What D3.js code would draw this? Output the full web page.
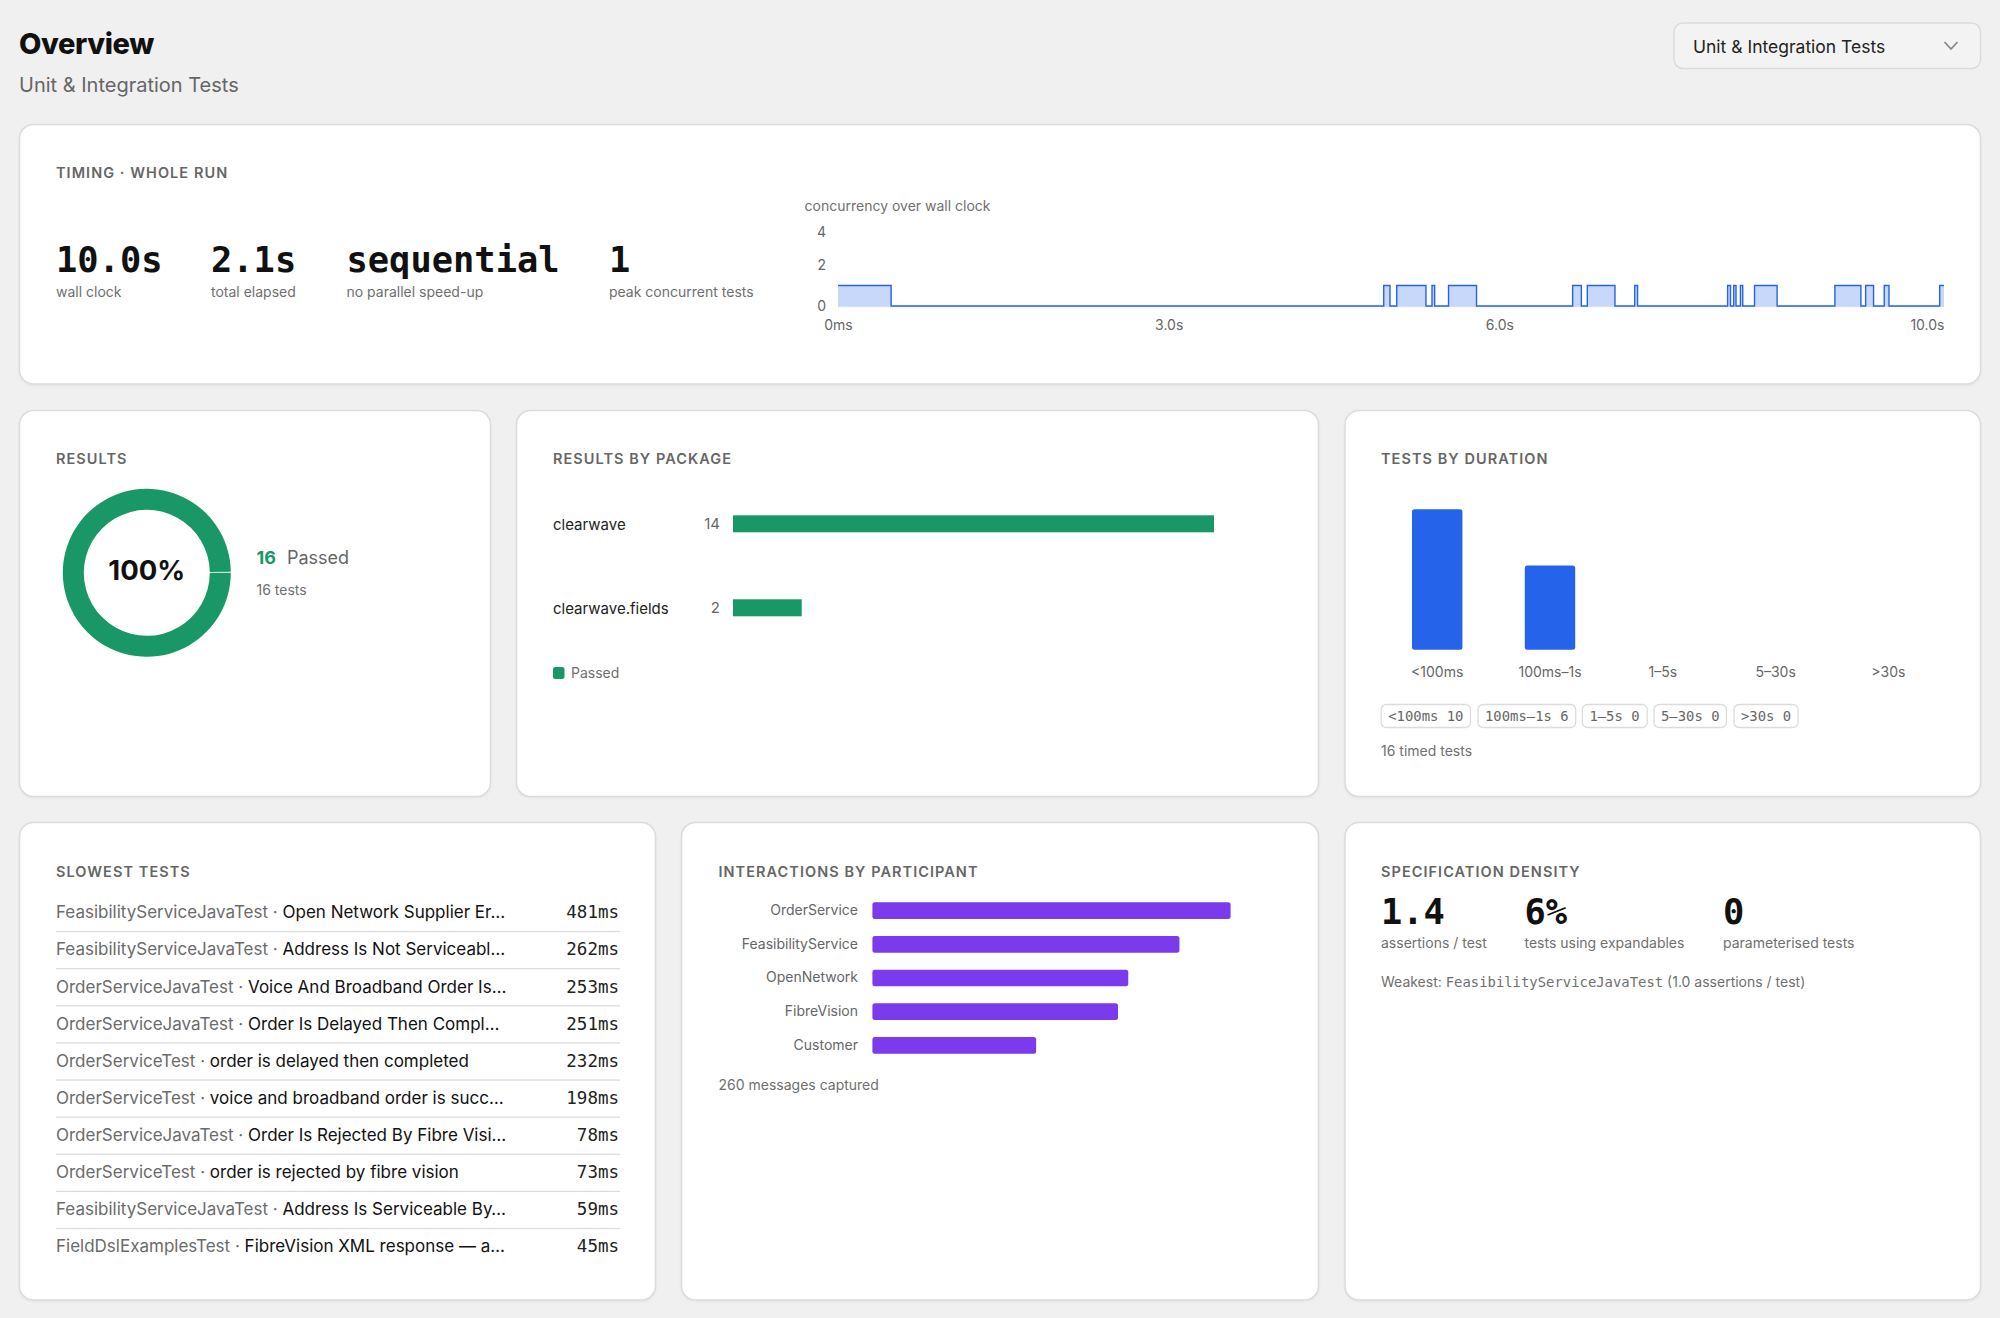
<!DOCTYPE html>
<html>
<head>
<meta charset="utf-8">
<title>Overview</title>
<script src="https://cdn.jsdelivr.net/npm/d3@7"></script>
<style>
  html, body { margin: 0; padding: 0; background: #f0f0f0; }
  svg { display: block; }
  text { font-family: Inter, "Noto Sans", sans-serif; }
  .mono { font-family: "DejaVu Sans Mono", monospace; }
  .card-title { font-size: 14.5px; font-weight: 600; letter-spacing: 1.05px; fill: #666; }
  .small { font-size: 14px; fill: #6f6f6f; }
  .big { font-size: 35.4px; font-weight: 700; fill: #111; font-family: "DejaVu Sans Mono", monospace; }
  .tick text { font-family: Inter, "Noto Sans", sans-serif; font-size: 14px; fill: #666; }
</style>
</head>
<body>
<div id="chart"></div>
<script>
// timing stats
const timingValues = ['10.0s', '2.1s', 'sequential', '1'];
const timingLabels = ['wall clock', 'total elapsed', 'no parallel speed-up', 'peak concurrent tests'];

// concurrency steps: time in seconds, level from that time on
const concurrencyTimes = [0, 0.482, 4.951, 5.008, 5.069, 5.334, 5.389, 5.413, 5.539, 5.793, 6.665, 6.744,
  6.798, 7.049, 7.228, 7.254, 8.071, 8.097, 8.126, 8.147, 8.187, 8.208, 8.315, 8.520, 9.044, 9.280,
  9.323, 9.395, 9.492, 9.535, 9.995, 10.034];
const concurrencyLevels = [1, 0, 1, 0, 1, 0, 1, 0, 1, 0, 1, 0, 1, 0, 1, 0, 1, 0, 1, 0, 1, 0, 1, 0, 1, 0,
  1, 0, 1, 0, 1, 1];
const concurrencyYTicks = [0, 2, 4];
const concurrencyXTicks = [0, 3, 6, 10.034];
const concurrencyXLabels = ['0ms', '3.0s', '6.0s', '10.0s'];

// results
const resultNames = ['Passed'];
const resultCounts = [16];

// results by package
const packages = ['clearwave', 'clearwave.fields'];
const packagePassed = [14, 2];

// tests by duration
const durationBuckets = ['<100ms', '100ms\u20131s', '1\u20135s', '5\u201330s', '>30s'];
const durationCounts = [10, 6, 0, 0, 0];

// slowest tests
const slowClasses = ['FeasibilityServiceJavaTest', 'FeasibilityServiceJavaTest', 'OrderServiceJavaTest',
  'OrderServiceJavaTest', 'OrderServiceTest', 'OrderServiceTest', 'OrderServiceJavaTest', 'OrderServiceTest',
  'FeasibilityServiceJavaTest', 'FieldDslExamplesTest'];
const slowNames = ['Open Network Supplier Er\u2026', 'Address Is Not Serviceabl\u2026', 'Voice And Broadband Order Is\u2026',
  'Order Is Delayed Then Compl\u2026', 'order is delayed then completed', 'voice and broadband order is succ\u2026',
  'Order Is Rejected By Fibre Visi\u2026', 'order is rejected by fibre vision', 'Address Is Serviceable By\u2026',
  'FibreVision XML response \u2014 a\u2026'];
const slowMillis = [481, 262, 253, 251, 232, 198, 78, 73, 59, 45];

// interactions by participant
const participants = ['OrderService', 'FeasibilityService', 'OpenNetwork', 'FibreVision', 'Customer'];
const participantMessages = [70, 60, 50, 48, 32];

// specification density
const densityValues = ['1.4', '6%', '0'];
const densityLabels = ['assertions / test', 'tests using expandables', 'parameterised tests'];

const GREEN = '#1a9766';
const BLUE = '#2563eb';
const PURPLE = '#7c3aed';

const svg = d3.select('#chart').append('svg').attr('width', 2000).attr('height', 1318);

// Card backgrounds
const card = (x0, y0, x1, y1) => svg.append('rect')
  .attr('x', x0).attr('y', y0).attr('width', x1 - x0).attr('height', y1 - y0)
  .attr('rx', 14).attr('fill', '#fff').attr('stroke', '#dcdcdc').attr('stroke-width', 1.5)
  .style('filter', 'drop-shadow(0 1px 1px rgba(0,0,0,0.05))');

card(19.5, 124.5, 1980.5, 384);
card(19.5, 410.5, 490.5, 796.5);
card(516.5, 410.5, 1318.5, 796.5);
card(1345, 410.5, 1980.5, 796.5);
card(19.5, 822.5, 655.5, 1300);
card(681.5, 822.5, 1318.5, 1300);
card(1345, 822.5, 1980.5, 1300);

const label = (x, y, str, cls) => svg.append('text').attr('x', x).attr('y', y).attr('class', cls).text(str);

// Header
svg.append('text').attr('x', 19).attr('y', 53.5).text('Overview')
  .style('font-size', '29px').style('font-weight', 800).style('letter-spacing', '-0.4px').attr('fill', '#111');
svg.append('text').attr('x', 19).attr('y', 91.5).text('Unit & Integration Tests')
  .style('font-size', '20px').attr('fill', '#666');

svg.append('rect').attr('x', 1674).attr('y', 23).attr('width', 306.5).attr('height', 45.5)
  .attr('rx', 9).attr('fill', '#f3f3f3').attr('stroke', '#dcdcdc').attr('stroke-width', 1.5);
svg.append('text').attr('x', 1693).attr('y', 52.5).text('Unit & Integration Tests')
  .style('font-size', '17.5px').attr('fill', '#222');
svg.append('path').attr('d', d3.line()([[1944.5, 42], [1951, 49], [1957.5, 42]]))
  .attr('fill', 'none').attr('stroke', '#888').attr('stroke-width', 1.8);

// Timing card
label(56, 178, 'TIMING \u00b7 WHOLE RUN', 'card-title');
const timingX = [56, 211, 346.5, 609];
timingValues.forEach((v, i) => {
  label(timingX[i], 271.5, v, 'big');
  label(timingX[i], 296.5, timingLabels[i], 'small');
});

label(804.5, 211, 'concurrency over wall clock', 'small');

const xTime = d3.scaleLinear().domain([0, 10.034]).range([838, 1944]);
// the "4" label sits closer than the linear spacing, so the top segment is compressed
const yLevel = d3.scaleLinear().domain([0, 2, 4]).range([306, 265, 232.5]);

const steps = concurrencyTimes.map((t, i) => ({ t, level: concurrencyLevels[i] }));

svg.append('path').datum(steps)
  .attr('d', d3.area().curve(d3.curveStepAfter).x(d => xTime(d.t)).y0(yLevel(0)).y1(d => yLevel(d.level)))
  .attr('fill', BLUE).attr('fill-opacity', 0.25);
svg.append('rect').attr('x', xTime(0)).attr('y', yLevel(0)).attr('width', xTime(10.034) - xTime(0)).attr('height', 1.2)
  .attr('fill', BLUE).attr('fill-opacity', 0.2);

svg.append('clipPath').attr('id', 'conc-clip').append('rect')
  .attr('x', xTime(0)).attr('y', 200).attr('width', xTime(10.034) - xTime(0)).attr('height', 120);
svg.append('path').datum(steps)
  .attr('d', d3.line().curve(d3.curveStepAfter).x(d => xTime(d.t)).y(d => yLevel(d.level)))
  .attr('fill', 'none').attr('stroke', BLUE).attr('stroke-width', 1.4)
  .attr('clip-path', 'url(#conc-clip)');

svg.append('g').attr('transform', `translate(${xTime(0)},0)`)
  .call(d3.axisLeft(yLevel).tickValues(concurrencyYTicks).tickFormat(d3.format('d')).tickSize(0).tickPadding(12))
  .call(g => g.select('.domain').remove());
svg.append('g').attr('transform', `translate(0,${yLevel(0)})`)
  .call(d3.axisBottom(xTime).tickValues(concurrencyXTicks).tickFormat((d, i) => concurrencyXLabels[i]).tickSize(0).tickPadding(14))
  .call(g => g.select('.domain').remove())
  .call(g => g.selectAll('.tick:last-of-type text').attr('text-anchor', 'end'));

// Results donut
label(56, 464, 'RESULTS', 'card-title');
const pie = d3.pie().sort(null).startAngle(Math.PI / 2).endAngle(Math.PI / 2 + 2 * Math.PI - 0.012);
const arc = d3.arc().innerRadius(63).outerRadius(84);
svg.append('g').attr('transform', 'translate(146.8,572.8)')
  .selectAll('path').data(pie(resultCounts)).join('path')
  .attr('d', arc).attr('fill', GREEN);
svg.append('text').attr('x', 146.8).attr('y', 580).attr('text-anchor', 'middle').text('100%')
  .style('font-size', '27.5px').style('font-weight', 700).attr('fill', '#111');
svg.append('text').attr('x', 256.5).attr('y', 564).text(resultCounts[0])
  .style('font-size', '18px').style('font-weight', 700).attr('fill', GREEN);
svg.append('text').attr('x', 287).attr('y', 564).text(resultNames[0])
  .style('font-size', '18px').attr('fill', '#666');
label(256.5, 594.5, `${d3.sum(resultCounts)} tests`, 'small');

// Results by package
label(553, 464, 'RESULTS BY PACKAGE', 'card-title');
const xPackage = d3.scaleLinear().domain([0, 14]).range([733, 1214]);
const yPackage = d3.scaleBand().domain(packages).range([515.3, 616.3]).paddingInner(0.7976);
packages.forEach((p, i) => {
  const mid = yPackage(p) + yPackage.bandwidth() / 2;
  svg.append('text').attr('x', 553).attr('y', mid + 6).text(p)
    .style('font-size', '15px').attr('fill', '#222');
  svg.append('text').attr('x', 720).attr('y', mid + 5.5).attr('text-anchor', 'end').text(packagePassed[i])
    .style('font-size', '15px').attr('fill', '#666');
  svg.append('rect').attr('x', xPackage(0)).attr('y', yPackage(p))
    .attr('width', xPackage(packagePassed[i]) - xPackage(0)).attr('height', yPackage.bandwidth())
    .attr('fill', GREEN);
});
svg.append('rect').attr('x', 553).attr('y', 667).attr('width', 11.5).attr('height', 12).attr('rx', 2.5).attr('fill', GREEN);
label(571, 677.5, resultNames[0], 'small');

// Tests by duration
label(1381, 464, 'TESTS BY DURATION', 'card-title');
const xBucket = d3.scaleBand().domain(durationBuckets).range([1412, 1913.6]).paddingInner(0.553);
const yCount = d3.scaleLinear().domain([0, 10]).range([649.7, 509.3]);
svg.selectAll('rect.duration').data(durationCounts.filter(c => c > 0)).join('rect')
  .attr('class', 'duration')
  .attr('x', (d, i) => xBucket(durationBuckets[i])).attr('y', d => yCount(d))
  .attr('width', xBucket.bandwidth()).attr('height', d => yCount(0) - yCount(d))
  .attr('rx', 2.5).attr('fill', BLUE);
svg.append('g').attr('transform', `translate(0,${yCount(0)})`)
  .call(d3.axisBottom(xBucket).tickSize(0).tickPadding(17))
  .call(g => g.select('.domain').remove());

const chipX = [1381.2, 1478, 1582.4, 1654, 1734];
const chipWidth = [89.3, 97.7, 64.8, 72.4, 64];
durationBuckets.forEach((b, i) => {
  svg.append('rect').attr('x', chipX[i]).attr('y', 704.5).attr('width', chipWidth[i]).attr('height', 23)
    .attr('rx', 5).attr('fill', '#fff').attr('stroke', '#dcdcdc').attr('stroke-width', 1.3);
  svg.append('text').attr('class', 'mono').attr('x', chipX[i] + 7).attr('y', 720.7).text(`${b} ${durationCounts[i]}`)
    .style('font-size', '13.9px').attr('fill', '#666');
});
label(1381, 756, `${d3.sum(durationCounts)} timed tests`, 'small');

// Slowest tests
label(56, 876.7, 'SLOWEST TESTS', 'card-title');
const ySlow = d3.scaleBand().domain(d3.range(slowMillis.length)).range([895.5, 1266.7]);
slowMillis.forEach((ms, i) => {
  const y = ySlow(i) + 22.8;
  const row = svg.append('text').attr('x', 56).attr('y', y).style('font-size', '17px');
  row.append('tspan').attr('fill', '#6b6b6b').text(`${slowClasses[i]} \u00b7 `);
  row.append('tspan').attr('fill', '#111').text(slowNames[i]);
  svg.append('text').attr('class', 'mono').attr('x', 619).attr('y', y).attr('text-anchor', 'end').text(`${ms}ms`)
    .style('font-size', '17.5px').attr('fill', '#222');
  if (i < slowMillis.length - 1) {
    svg.append('rect').attr('x', 56).attr('y', ySlow(i) + ySlow.bandwidth() - 1.7).attr('width', 564).attr('height', 1.3)
      .attr('fill', '#dcdcdc');
  }
});

// Interactions by participant
label(718.5, 876.7, 'INTERACTIONS BY PARTICIPANT', 'card-title');
const xMessages = d3.scaleLinear().domain([0, 70]).range([872.4, 1230.6]);
const yParticipant = d3.scaleBand().domain(participants).range([902.3, 1053.7]).paddingInner(0.504);
svg.selectAll('rect.participant').data(participantMessages).join('rect')
  .attr('class', 'participant')
  .attr('x', xMessages(0)).attr('y', (d, i) => yParticipant(participants[i]))
  .attr('width', d => xMessages(d) - xMessages(0)).attr('height', yParticipant.bandwidth())
  .attr('rx', 2.5).attr('fill', PURPLE);
svg.append('g').attr('transform', `translate(${xMessages(0)},0)`)
  .call(d3.axisLeft(yParticipant).tickSize(0).tickPadding(14.4))
  .call(g => g.select('.domain').remove());
label(718.5, 1090, `${d3.sum(participantMessages)} messages captured`, 'small');

// Specification density
label(1381, 876.7, 'SPECIFICATION DENSITY', 'card-title');
const densityX = [1381, 1524.5, 1723];
densityValues.forEach((v, i) => {
  label(densityX[i], 924, v, 'big');
  label(densityX[i], 948.3, densityLabels[i], 'small');
});
const weakest = svg.append('text').attr('x', 1381).attr('y', 986.7).attr('class', 'small');
weakest.append('tspan').text('Weakest: ');
weakest.append('tspan').attr('class', 'mono').style('font-size', '13.9px').text('FeasibilityServiceJavaTest');
weakest.append('tspan').text(' (1.0 assertions / test)');
</script>
</body>
</html>
